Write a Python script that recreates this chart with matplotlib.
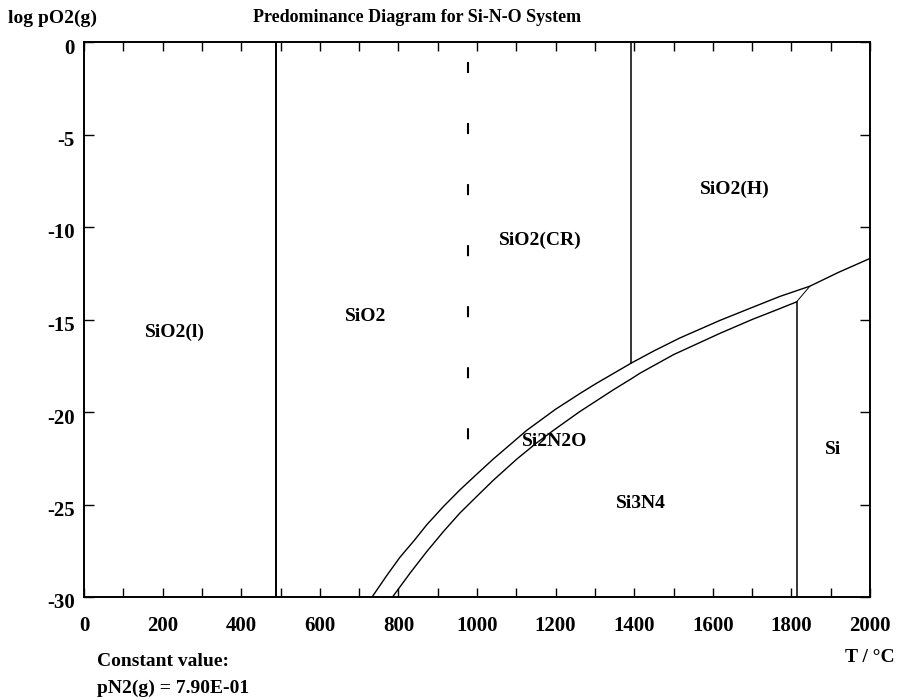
import matplotlib
matplotlib.use("Agg")
import matplotlib.pyplot as plt
from matplotlib.ticker import FuncFormatter
from matplotlib.transforms import ScaledTranslation

# Phase boundaries, T in degrees C, log pO2(g)
upper_T = [733, 770, 804, 840, 872, 915, 957, 1000, 1041, 1085, 1126, 1200, 1262, 1300,
           1393, 1450, 1516, 1618, 1700, 1771, 1847, 1920, 2000]
upper_logp = [-30.0, -28.85, -27.85, -26.95, -26.1, -25.1, -24.2, -23.35, -22.55, -21.75,
              -21.0, -19.85, -19.0, -18.5, -17.35, -16.7, -16.0, -15.05, -14.35, -13.75,
              -13.2, -12.45, -11.7]

lower_T = [785, 830, 872, 915, 957, 1000, 1041, 1101, 1150, 1194, 1260, 1347, 1393, 1415,
           1500, 1618, 1700, 1760, 1813]
lower_logp = [-30.0, -28.7, -27.55, -26.45, -25.45, -24.55, -23.7, -22.55, -21.7, -21.0,
              -20.0, -18.8, -18.2, -17.9, -16.9, -15.75, -15.0, -14.5, -14.05]

# Si2N2O / Si short boundary
link_T = [1813, 1847]
link_logp = [-14.05, -13.2]

# Vertical boundaries: T and the log pO2 span they cover
melt_T, melt_range = 488, (0, -30)
cr_h_T, cr_h_range = 1393, (0, -17.35)
si_T, si_range = 1813, (-14.05, -30)
quartz_T, quartz_range = 976, (0, -21.8)

region_labels = ["SiO2(l)", "SiO2", "SiO2(CR)", "SiO2(H)", "Si2N2O", "Si3N4", "Si"]
region_T = [231, 716, 1161, 1657, 1197, 1417, 1906]
region_logp = [-15.7, -14.85, -10.7, -7.95, -21.6, -24.95, -22.0]

x_ticks = list(range(0, 2001, 100))
y_ticks = [0, -5, -10, -15, -20, -25, -30]

plt.rcParams['font.family'] = ['Liberation Serif', 'DejaVu Serif']
plt.rcParams['font.weight'] = 'bold'
plt.rcParams['axes.unicode_minus'] = False
FS = 14
FS_TICK = 15

fig = plt.figure(figsize=(8.99, 7.0), dpi=100)
ax = fig.add_axes([84 / 899, 103 / 700, 786 / 899, 555 / 700])

lc = 'black'
ax.plot(upper_T, upper_logp, color=lc, lw=1.0)
ax.plot(lower_T, lower_logp, color=lc, lw=1.0)
ax.plot(link_T, link_logp, color=lc, lw=0.7)
ax.plot([melt_T, melt_T], melt_range, color=lc, lw=1.4)
ax.plot([cr_h_T, cr_h_T], cr_h_range, color=lc, lw=1.1)
ax.plot([si_T, si_T], si_range, color=lc, lw=1.1)
ax.plot([quartz_T, quartz_T], quartz_range, color=lc, lw=1.5,
        linestyle=(19.7, (5.3, 24.0)))

for lab, tx, ty in zip(region_labels, region_T, region_logp):
    ax.text(tx, ty, lab, ha='center', va='center', fontsize=FS, fontweight='bold')

ax.set_xlim(0, 2000)
ax.set_ylim(-30, 0)
ax.set_xticks(x_ticks)
ax.xaxis.set_major_formatter(FuncFormatter(lambda v, p: f"{int(v)}" if int(v) % 200 == 0 else ""))
ax.set_yticks(y_ticks)
ax.tick_params(axis='both', direction='in', width=1.0, labelsize=FS_TICK,
               top=True, right=True, colors='black')
ax.tick_params(axis='x', pad=14, length=6.5)
ax.tick_params(axis='y', pad=6.5, length=7)
shift = ScaledTranslation(0, -4 / 100, fig.dpi_scale_trans)
for lbl in ax.get_xticklabels() + ax.get_yticklabels():
    lbl.set_fontweight('bold')
for lbl in ax.get_yticklabels():
    lbl.set_transform(lbl.get_transform() + shift)
for s in ax.spines.values():
    s.set_linewidth(1.4)

fig.text(8 / 899, 1 - 18 / 700, "log pO2(g)", ha='left', va='center', fontsize=FS, fontweight='bold')
fig.text(417 / 899, 1 - 18 / 700, "Predominance Diagram for Si-N-O System", ha='center', va='center',
         fontsize=13, fontweight='bold')
fig.text(895 / 899, 1 - 658 / 700, "T / °C", ha='right', va='center', fontsize=FS, fontweight='bold')
fig.text(97 / 899, 1 - 662 / 700, "Constant value:", ha='left', va='center', fontsize=FS, fontweight='bold')
fig.text(97 / 899, 1 - 688 / 700, "pN2(g) = 7.90E-01", ha='left', va='center', fontsize=FS, fontweight='bold')

fig.savefig("out.png", dpi=100, facecolor='white')
